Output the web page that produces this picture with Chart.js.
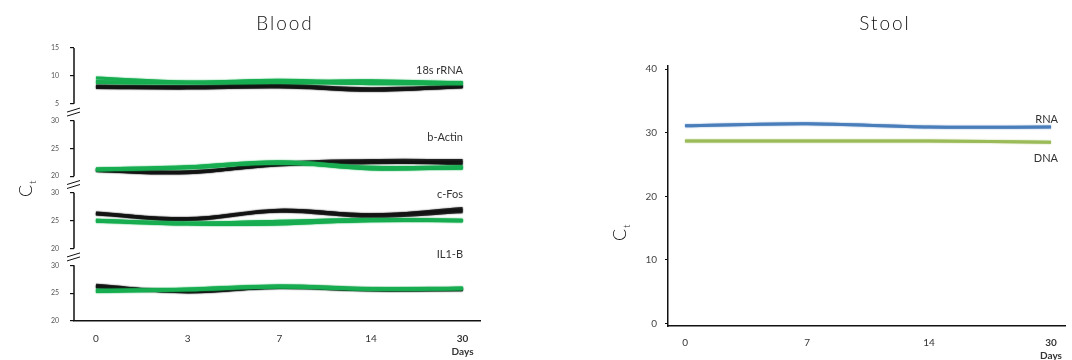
<!DOCTYPE html>
<html>
<head>
<meta charset="utf-8">
<script src="https://cdn.jsdelivr.net/npm/chart.js@4.4.1/dist/chart.umd.min.js"></script>
<style>
  body { margin: 0; background: #fff; }
  #wrap { position: relative; width: 1072px; height: 360px; }
  .panel { position: absolute; top: 0; }
  .ttl { position: absolute; top: 11px; line-height: 24px; font: 300 19px Lato, sans-serif; letter-spacing: 2px; color: #111; transform: translateX(-50%); }
</style>
</head>
<body>
<div id="wrap">
  <canvas class="panel" id="bloodChart" width="540" height="360" style="left:0"></canvas>
  <canvas class="panel" id="stoolChart" width="532" height="360" style="left:540px"></canvas>
  <div class="ttl" style="left:285px">Blood</div>
  <div class="ttl" style="left:885px">Stool</div>
</div>
<script>
// ---- data ----
const bloodDays = ['0', '3', '7', '14', '30'];
const stoolDays = ['0', '7', '14', '30'];
const geneNames = ['18s rRNA', 'b-Actin', 'c-Fos', 'IL1-B'];

const rrnaTicks = [5, 10, 15];
const geneTicks = [20, 25, 30];
const stoolTicks = [0, 10, 20, 30, 40];

// each gene: several samples, black and green groups
const rrnaBlack = [[8.0, 7.9, 8.2, 7.4, 8.1], [8.2, 8.1, 8.3, 7.7, 8.2], [7.9, 7.8, 8.0, 7.5, 8.0]];
const rrnaGreen = [[9.6, 8.9, 9.2, 8.8, 8.8], [9.0, 8.8, 8.9, 9.1, 8.7], [8.8, 8.7, 8.8, 8.6, 8.6]];
const actinBlack = [[21.0, 20.6, 22.3, 22.8, 22.8], [21.1, 20.8, 22.0, 22.4, 22.5], [21.0, 20.7, 22.1, 22.6, 22.2]];
const actinGreen = [[21.3, 21.7, 22.6, 21.6, 21.7], [21.2, 21.5, 22.4, 21.3, 21.5], [21.1, 21.6, 22.3, 21.5, 21.4]];
const fosBlack = [[26.4, 25.3, 26.9, 26.0, 27.2], [26.3, 25.4, 26.7, 25.8, 26.6], [26.2, 25.2, 26.8, 26.1, 26.9]];
const fosGreen = [[25.1, 24.6, 24.9, 25.2, 25.1], [24.9, 24.4, 24.4, 25.1, 25.0], [25.0, 24.5, 24.6, 25.0, 25.0]];
const il1bBlack = [[26.4, 25.2, 26.1, 25.6, 25.7], [26.2, 25.3, 26.1, 25.7, 25.7], [26.1, 25.4, 26.0, 25.6, 25.6]];
const il1bGreen = [[25.5, 25.7, 26.3, 25.8, 25.9], [25.3, 25.6, 26.1, 25.7, 25.9], [25.4, 25.7, 26.2, 25.7, 25.8]];

const stoolRNA = [31.1, 31.4, 30.9, 30.9];
const stoolDNA = [28.7, 28.7, 28.7, 28.5];

// ---- helpers ----
const BLACK = 'rgba(20,20,20,0.85)';
const GREEN = '#17ad50';
const bloodAxes = ['yRrna', 'yActin', 'yFos', 'yIl1b'];

function toPoints(vals) {
  return vals.map((v, i) => ({ x: i, y: v }));
}

// chart.js paints the first dataset last, so greens go first to sit on top
function geneSets(blacks, greens, axisId) {
  const out = [];
  greens.forEach(v => out.push({ data: toPoints(v), borderColor: GREEN, yAxisID: axisId }));
  blacks.forEach(v => out.push({ data: toPoints(v), borderColor: BLACK, yAxisID: axisId }));
  return out;
}

function dayAxis(days, min, max, h, pad) {
  return {
    type: 'linear', position: 'bottom', min: min, max: max,
    afterBuildTicks: s => { s.ticks = days.map((d, i) => ({ value: i })); },
    afterFit: s => { s.height = h; },
    grid: { display: false, drawTicks: false },
    border: { color: '#111', width: 1.5 },
    ticks: {
      padding: pad, color: '#333',
      font: c => ({ family: 'Lato', size: 10, lineHeight: 1.3, weight: c.index === days.length - 1 ? 'bold' : 'normal' }),
      callback: v => v === days.length - 1 ? [days[v], 'Days'] : days[v]
    }
  };
}

function bloodY(lo, hi, tickVals, weight) {
  return {
    type: 'linear', position: 'left', stack: 'blood', stackWeight: weight,
    min: lo, max: hi,
    afterBuildTicks: s => { s.ticks = tickVals.map(v => ({ value: v })); },
    afterFit: s => { s.width = 74; },
    grid: { drawOnChartArea: false, tickLength: 4, color: '#111', lineWidth: 1.2 },
    border: { display: false },
    ticks: { padding: 11, color: '#555', font: { family: 'Lato', size: 7 } }
  };
}

function drawCt(ctx, x, y) {
  ctx.save();
  ctx.translate(x, y);
  ctx.rotate(-Math.PI / 2);
  ctx.fillStyle = '#111';
  ctx.textBaseline = 'middle';
  ctx.textAlign = 'left';
  ctx.font = '300 18px Lato';
  const w = ctx.measureText('C').width;
  ctx.fillText('C', -w / 2 - 3, 0);
  ctx.font = '300 10px Lato';
  ctx.fillText('t', w / 2 - 2, 7);
  ctx.restore();
}

const softLines = {
  id: 'softLines',
  beforeDatasetDraw(chart, args) {
    const ctx = chart.ctx;
    ctx.save();
    ctx.shadowColor = args.meta.dataset.options.borderColor;
    ctx.shadowBlur = 1.5;
  },
  afterDatasetDraw(chart) {
    chart.ctx.restore();
  }
};

const bloodDeco = {
  id: 'bloodDeco',
  afterDraw(chart) {
    const ctx = chart.ctx;
    const left = chart.chartArea.left;
    const labelAt = [11.05, 26.9, 29.8, 32.0]; // gene name heights in axis units
    const scales = bloodAxes.map(id => chart.scales[id]);
    ctx.save();
    ctx.strokeStyle = '#111';
    ctx.lineWidth = 1.5;
    scales.forEach(s => {
      const t = s.ticks;
      ctx.beginPath();
      ctx.moveTo(left, s.getPixelForValue(t[0].value));
      ctx.lineTo(left, s.getPixelForValue(t[t.length - 1].value));
      ctx.stroke();
    });
    // break marks between stacked axes
    const sorted = scales.slice().sort((a, b) => a.top - b.top);
    ctx.lineWidth = 1;
    for (let k = 1; k < sorted.length; k++) {
      const y = sorted[k].top;
      [-2, 2].forEach(dy => {
        ctx.beginPath();
        ctx.moveTo(left - 7, y + dy + 2);
        ctx.lineTo(left + 6, y + dy - 2);
        ctx.stroke();
      });
    }
    ctx.fillStyle = '#333';
    ctx.font = '11px Lato';
    ctx.textAlign = 'right';
    ctx.textBaseline = 'middle';
    scales.forEach((s, k) => {
      ctx.fillText(geneNames[k], 463, s.getPixelForValue(labelAt[k]));
    });
    ctx.restore();
    drawCt(ctx, 26, 188);
  }
};

const stoolDeco = {
  id: 'stoolDeco',
  afterDraw(chart) {
    const ctx = chart.ctx;
    const y = chart.scales.y;
    ctx.save();
    ctx.fillStyle = '#333';
    ctx.font = '11px Lato';
    ctx.textAlign = 'right';
    ctx.textBaseline = 'middle';
    ctx.fillText('RNA', 518, y.getPixelForValue(32.1));
    ctx.fillText('DNA', 518, y.getPixelForValue(25.9));
    ctx.restore();
    drawCt(ctx, 80, 232);
  }
};

Chart.defaults.font.family = 'Lato';

new Chart(document.getElementById('bloodChart'), {
  type: 'line',
  data: {
    datasets: [
      ...geneSets(rrnaBlack, rrnaGreen, 'yRrna'),
      ...geneSets(actinBlack, actinGreen, 'yActin'),
      ...geneSets(fosBlack, fosGreen, 'yFos'),
      ...geneSets(il1bBlack, il1bGreen, 'yIl1b')
    ]
  },
  options: {
    responsive: false,
    animation: false,
    devicePixelRatio: 1,
    layout: { padding: { top: 48, right: 60, left: 0, bottom: 0 } },
    elements: {
      line: { borderWidth: 3, tension: 0.4, fill: false },
      point: { radius: 0 }
    },
    plugins: { legend: { display: false }, tooltip: { enabled: false } },
    // stacked axes are laid out bottom-up in the order they are listed
    scales: {
      x: dayAxis(bloodDays, -0.24, 4.19, 39, 11.5),
      yIl1b: bloodY(20, 31.5, geneTicks, 11.5),
      yFos: bloodY(18.5, 31.5, geneTicks, 13),
      yActin: bloodY(18.5, 31.5, geneTicks, 13),
      yRrna: bloodY(3.5, 15, rrnaTicks, 11.5)
    }
  },
  plugins: [softLines, bloodDeco]
});

new Chart(document.getElementById('stoolChart'), {
  type: 'line',
  data: {
    datasets: [
      { data: toPoints(stoolRNA), borderColor: '#4a7ebb' },
      { data: toPoints(stoolDNA), borderColor: '#9bbb59' }
    ]
  },
  options: {
    responsive: false,
    animation: false,
    devicePixelRatio: 1,
    layout: { padding: { top: 66, right: 0, left: 0, bottom: 0 } },
    elements: {
      line: { borderWidth: 3, tension: 0.3, fill: false },
      point: { radius: 0 }
    },
    plugins: { legend: { display: false }, tooltip: { enabled: false } },
    scales: {
      x: dayAxis(stoolDays, -0.14, 3.12, 34, 10),
      y: {
        type: 'linear', min: -0.4, max: 40.5,
        afterBuildTicks: s => { s.ticks = stoolTicks.map(v => ({ value: v })); },
        afterFit: s => { s.width = 128; },
        grid: { drawOnChartArea: false, tickLength: 3, color: '#111' },
        border: { color: '#111', width: 1.5 },
        ticks: { padding: 8, color: '#444', font: { family: 'Lato', size: 10 } }
      }
    }
  },
  plugins: [softLines, stoolDeco]
});
</script>
</body>
</html>
